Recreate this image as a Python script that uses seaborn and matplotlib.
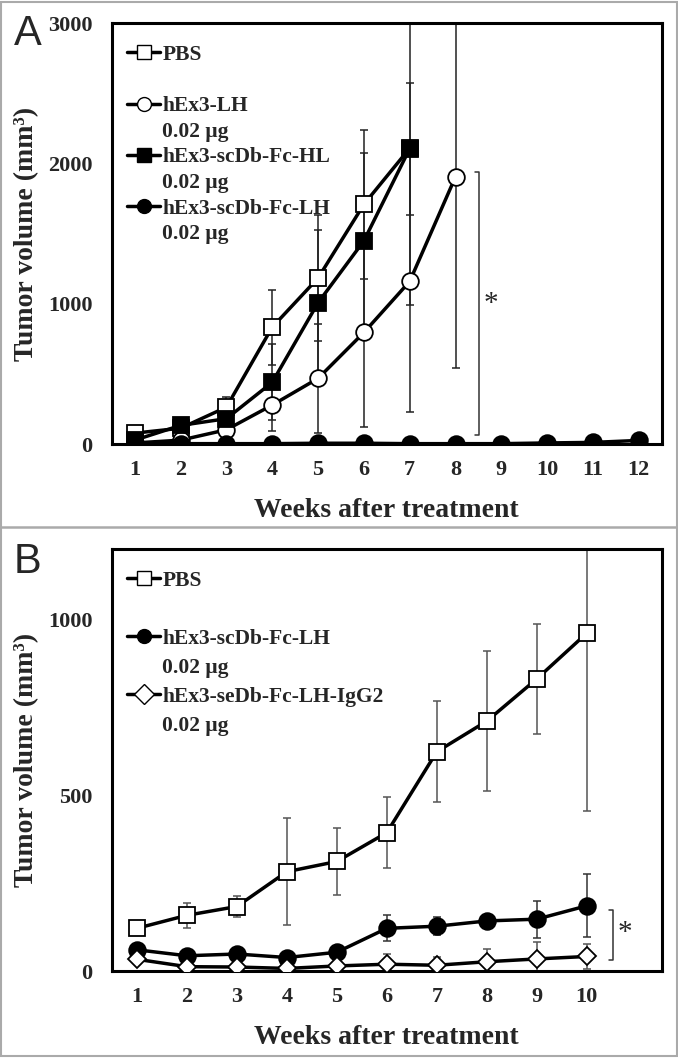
import matplotlib
matplotlib.use('Agg')
import matplotlib.pyplot as plt
from matplotlib.lines import Line2D
from matplotlib.patches import Rectangle
import numpy as np
import seaborn as sns

# ---- data (panel A) ----
weeks_a = np.arange(1, 13)
tick_labels_a = [str(w) for w in weeks_a]
pbs_a = [80, 115, 265, 835, 1185, 1710, 2110]
pbs_a_err = [20, 20, 75, 268, 451, 530, 1120]
lh_a = [10, 30, 104, 280, 470, 797, 1161, 1907]
lh_a_err = [10, 15, 30, 183, 390, 670, 931, 1364]
hl_a = [30, 135, 183, 442, 1009, 1450, 2107]
hl_a_err = [15, 20, 40, 270, 519, 628, 470]
fclh_a = [5, 5, 5, 5, 8, 8, 5, 5, 5, 10, 14, 28]
fclh_a_err = [3, 3, 3, 3, 4, 4, 3, 3, 3, 4, 5, 8]

# ---- data (panel B) ----
weeks_b = np.arange(1, 11)
tick_labels_b = [str(w) for w in weeks_b] + ['']
pbs_b = [122, 159, 184, 283, 312, 394, 624, 711, 831, 961]
pbs_b_err = [0, 35, 30, 152, 96, 100, 143, 200, 157, 505]
fclh_b = [61, 44, 49, 39, 54, 122, 128, 143, 148, 186]
fclh_b_err = [0, 0, 0, 0, 0, 37, 25, 15, 53, 90]
igg2_b = [34, 13, 12, 8, 15, 20, 17, 27, 35, 42]
igg2_b_err = [0, 0, 0, 0, 0, 30, 24, 37, 47, 36]

sns.set_style('white')
plt.rcParams['font.family'] = ['Liberation Serif', 'DejaVu Serif']
plt.rcParams['font.weight'] = 'bold'

fig = plt.figure(figsize=(6.78, 10.58), dpi=100)
ax_a = fig.add_axes([0.165, 0.580, 0.811, 0.398])
ax_b = fig.add_axes([0.165, 0.082, 0.811, 0.399])

LW = 2.5
MS = 12
ERR_KW = dict(fmt='none', capsize=3, elinewidth=1.1, capthick=1.1, zorder=1)


def series(ax, x, y, err, marker, face, ms=MS, ecolor='#222222'):
    ax.errorbar(x, y, yerr=err, ecolor=ecolor, **ERR_KW)
    sns.lineplot(x=x, y=y, ax=ax, color='black', linewidth=LW, marker=marker,
                 markersize=ms, markerfacecolor=face, markeredgecolor='black',
                 markeredgewidth=1.3, zorder=3)


def style_axes(ax, ymax, yticks, xmax, xtick_labels):
    for s in ax.spines.values():
        s.set_linewidth(2.2)
        s.set_color('black')
    ax.set_xlim(0.5, xmax)
    ax.set_ylim(0, ymax)
    ax.set_yticks(yticks)
    ax.set_yticklabels([str(t) for t in yticks], fontsize=16, fontweight='bold')
    ax.set_xticks(np.arange(1, len(xtick_labels) + 1))
    ax.set_xticklabels(xtick_labels, fontsize=16, fontweight='bold')
    ax.tick_params(axis='both', direction='in', length=4, width=2, color='black')
    ax.tick_params(axis='y', pad=14)
    ax.tick_params(axis='x', pad=11)
    ax.set_xlabel('Weeks after treatment', fontsize=20, fontweight='bold', labelpad=13)
    ax.set_ylabel('Tumor volume (mm³)', fontsize=20, fontweight='bold')
    ax.yaxis.set_label_coords(-0.133, 0.5)
    ax.grid(False)


def legend(ax, entries, spacing, top):
    handles, labels = [], []
    for mk, face, name in entries:
        handles.append(Line2D([], [], color='black', lw=LW, marker=mk, markersize=10,
                              markerfacecolor=face, markeredgecolor='black'))
        labels.append(name[0])
        handles.append(Line2D([], [], lw=0, marker=None))
        labels.append(name[1])
    ax.legend(handles, labels, loc='upper left', bbox_to_anchor=(0.0, top),
              frameon=False, handlelength=1.55, handletextpad=0.1,
              labelspacing=spacing, borderaxespad=0.3,
              prop=dict(family='Liberation Serif', weight='bold', size=15.5))


# ---- panel A ----
series(ax_a, weeks_a[:len(pbs_a)], pbs_a, pbs_a_err, 's', 'white')
series(ax_a, weeks_a[:len(lh_a)], lh_a, lh_a_err, 'o', 'white')
series(ax_a, weeks_a[:len(hl_a)], hl_a, hl_a_err, 's', 'black')
series(ax_a, weeks_a, fclh_a, fclh_a_err, 'o', 'black')
style_axes(ax_a, 3000, [0, 1000, 2000, 3000], 12.5, tick_labels_a)
legend(ax_a, [('s', 'white', ('PBS', ' ')),
              ('o', 'white', ('hEx3-LH', '0.02 µg')),
              ('s', 'black', ('hEx3-scDb-Fc-HL', '0.02 µg')),
              ('o', 'black', ('hEx3-scDb-Fc-LH', '0.02 µg'))], 0.26, 0.985)
ax_a.plot([8.43, 8.52, 8.52, 8.43], [1942, 1942, 68, 68], color='#333333', lw=1.1)
ax_a.text(8.62, 1000, '*', fontsize=21, fontweight='normal', ha='left', va='center')

# ---- panel B ----
series(ax_b, weeks_b, pbs_b, pbs_b_err, 's', 'white', ecolor='#555555')
series(ax_b, weeks_b, fclh_b, fclh_b_err, 'o', 'black', ecolor='#333333')
series(ax_b, weeks_b, igg2_b, igg2_b_err, 'D', 'white', ms=9, ecolor='#555555')
style_axes(ax_b, 1200, [0, 500, 1000], 11.5, tick_labels_b)
legend(ax_b, [('s', 'white', ('PBS', ' ')),
              ('o', 'black', ('hEx3-scDb-Fc-LH', '0.02 µg')),
              ('D', 'white', ('hEx3-seDb-Fc-LH-IgG2', '0.02 µg'))], 0.42, 0.985)
ax_b.plot([10.44, 10.52, 10.52, 10.44], [173, 173, 33, 33], color='#333333', lw=1.1)
ax_b.text(10.62, 110, '*', fontsize=21, fontweight='normal', ha='left', va='center')

# panel letters
fig.text(0.020, 0.968, 'A', fontsize=30, family='Liberation Sans', fontweight='normal',
         va='center', ha='left')
fig.text(0.020, 0.469, 'B', fontsize=30, family='Liberation Sans', fontweight='normal',
         va='center', ha='left')

# outer border and divider
fig.add_artist(Rectangle((0.002, 0.002), 0.996, 0.996, transform=fig.transFigure,
                         fill=False, edgecolor='#aaaaaa', lw=1.5))
fig.add_artist(Line2D([0, 1], [1 - 527 / 1058] * 2, transform=fig.transFigure,
                      color='#aaaaaa', lw=1.8))

fig.savefig('out.png', dpi=100)
